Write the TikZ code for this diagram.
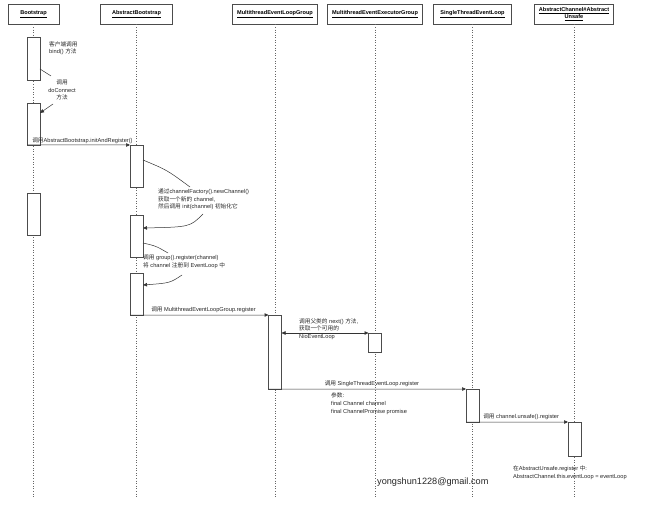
\documentclass[tikz,border=0pt]{standalone}
\usepackage{fontspec}
\setmainfont{Liberation Sans}
\newfontfamily\cjk{Noto Sans CJK SC}
\usetikzlibrary{arrows.meta}
\newcommand{\zh}[1]{{\cjk #1}}

\begin{document}
\begin{tikzpicture}[x=1bp,y=-1bp,
    obj/.style={draw=black!70,line width=0.7bp,fill=white,minimum height=20bp,inner sep=1bp,align=center,
                font=\fontsize{5.6}{7}\selectfont\bfseries},
    act/.style={draw=black!70,line width=0.7bp,fill=white,minimum width=13bp,inner sep=0pt,outer sep=0pt},
    life/.style={draw=black!60,line width=0.6bp,dotted},
    msg/.style={draw=black!80,line width=0.5bp,-{Triangle[length=4bp,width=3.5bp]}},
    hint/.style={draw=black!80,line width=0.5bp},
    lbl/.style={font=\fontsize{5.7}{7.8}\selectfont,inner sep=0pt,align=left,text=black!85}]
    \useasboundingbox (0,0) rectangle (650,514);

    %objects
    \node [obj,minimum width=51bp] (bs) at (33.5,14) {\underline{Bootstrap}};
    \node [obj,minimum width=72bp] (ab) at (136.5,14) {\underline{AbstractBootstrap}};
    \node [obj,minimum width=85bp] (mg) at (275,14) {\underline{MultithreadEventLoopGroup}};
    \node [obj,minimum width=95bp] (me) at (375,14) {\underline{MultithreadEventExecutorGroup}};
    \node [obj,minimum width=78bp] (st) at (472.5,14) {\underline{SingleThreadEventLoop}};
    \node [obj,minimum width=79bp] (au) at (574,14) {\underline{AbstractChannel\#Abstract}\\\underline{Unsafe}};

    %life lines
    \foreach \o in {bs,ab,mg,me,st,au}
        \draw [life] (\o.south) -- (\o.south |- 0,498);

    %activations
    \node [act,minimum height=43bp] (bs1) at (33.5,58.5) {};
    \node [act,minimum height=42bp] (bs2) at (33.5,124) {};
    \node [act,minimum height=42bp] (bs3) at (33.5,214) {};
    \node [act,minimum height=42bp] (ab1) at (136.5,166) {};
    \node [act,minimum height=42bp] (ab2) at (136.5,236) {};
    \node [act,minimum height=42bp] (ab3) at (136.5,294) {};
    \node [act,minimum height=74bp] (mg1) at (275,352) {};
    \node [act,minimum height=19bp] (me1) at (375,342.5) {};
    \node [act,minimum height=33bp] (st1) at (472.5,405.5) {};
    \node [act,minimum height=34bp] (au1) at (574.5,439) {};

    %bind / doConnect
    \node [lbl,anchor=north west] (nbind) at (49,41) {\zh{客户端调用}\\bind() \zh{方法}};
    \node [lbl,align=center] (ndc) at (62,90) {\zh{调用}\\doConnect\\\zh{方法}};
    \coordinate (t1) at (51,76);
    \coordinate (t2) at (53,104);
    \draw [hint] (bs1.east |- 0,69) -- (t1);
    \draw [msg] (t2) -- (bs2.east |- 0,113);

    %initAndRegister
    \draw [msg] (bs2.south west) -- node[lbl,anchor=south west,at start,xshift=5bp,yshift=1.5bp]
        {\zh{调用}AbstractBootstrap.initAndRegister()} (ab1.north west);

    %newChannel
    \node [lbl,anchor=north west] (nnew) at (158,188.5)
        {\zh{通过}channelFactory().newChannel()\\\zh{获取一个新的} channel,\\\zh{然后调用} init(channel) \zh{初始化它}};
    \coordinate (t3) at (190,187);
    \coordinate (t4) at (203,214);
    \draw [hint] (ab1.east |- 0,160) .. controls (167,170) .. (t3);
    \draw [msg] (t4) .. controls (190,227) .. (ab2.east |- 0,228);

    %group().register
    \node [lbl,anchor=north west] (ngrp) at (143,254.5)
        {\zh{调用} group().register(channel)\\\zh{将} channel \zh{注册到} EventLoop \zh{中}};
    \coordinate (t5) at (168,253);
    \coordinate (t6) at (182,275);
    \draw [hint] (ab2.east |- 0,243) .. controls (156,246) .. (t5);
    \draw [msg] (t6) .. controls (170,283) .. (ab3.east |- 0,285);

    %MultithreadEventLoopGroup.register
    \draw [msg] (ab3.south west) -- node[lbl,anchor=south west,at start,xshift=21bp,yshift=2bp]
        {\zh{调用} MultithreadEventLoopGroup.register} (mg1.north west);

    %next()
    \node [lbl,anchor=north west] (nnext) at (299,318)
        {\zh{调用父类的} next() \zh{方法},\\\zh{获取一个可用的}\\NioEventLoop};
    \draw [msg,{Triangle[length=4bp,width=3.5bp]}-{Triangle[length=4bp,width=3.5bp]}]
        (mg1.east |- me1.north) -- (me1.north west);

    %SingleThreadEventLoop.register
    \draw [msg] (mg1.south west) -- node[lbl,anchor=south west,at start,xshift=56bp,yshift=2bp]
        {\zh{调用} SingleThreadEventLoop.register} (st1.north west);
    \node [lbl,anchor=north west] (nparam) at (331,392.5)
        {\zh{参数}:\\final Channel channel\\final ChannelPromise promise};

    %unsafe().register
    \draw [msg] (st1.south west) -- node[lbl,anchor=south west,at start,xshift=17bp,yshift=2bp]
        {\zh{调用} channel.unsafe().register} (au1.north west);
    \node [lbl,anchor=north west] (nau) at (513,465.5)
        {\zh{在}AbstractUnsafe.register \zh{中}:\\AbstractChannel.this.eventLoop = eventLoop};

    %mail
    \node [anchor=west,inner sep=0pt,font=\fontsize{9.2}{11}\selectfont,text=black!85] (mail) at (377,482)
        {yongshun1228@gmail.com};
\end{tikzpicture}
\end{document}
